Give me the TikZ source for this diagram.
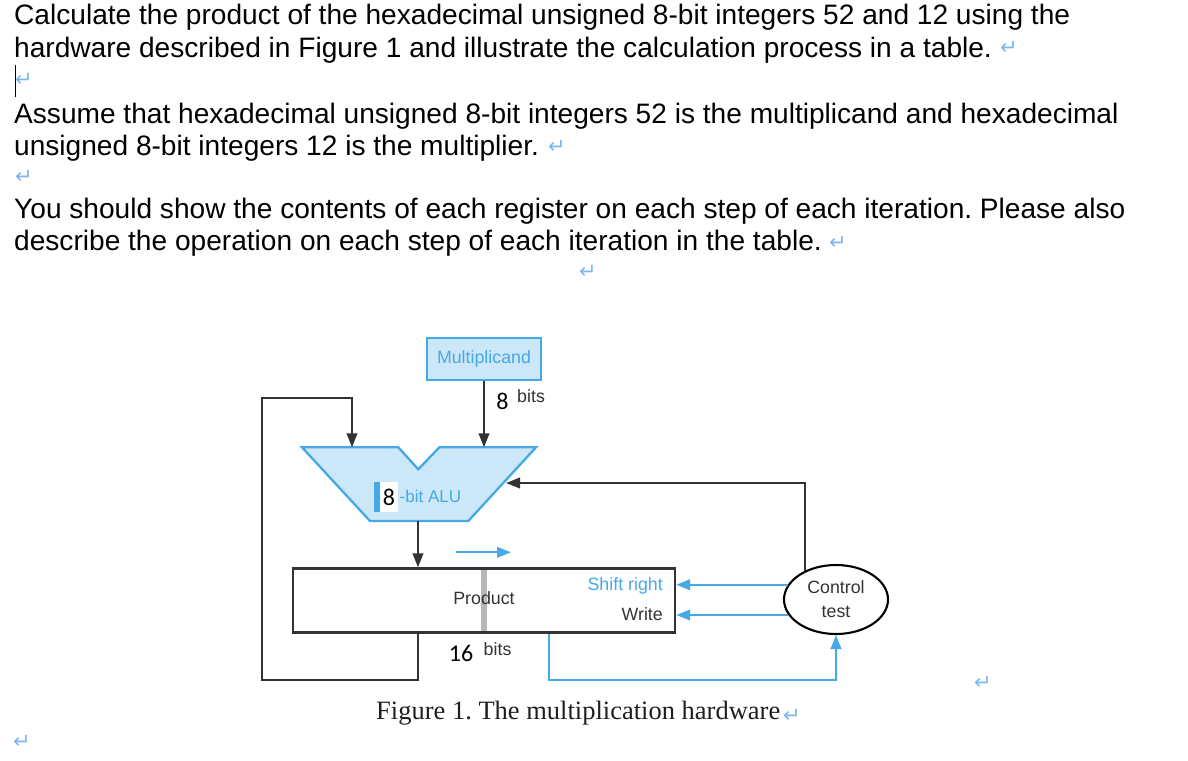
\documentclass[tikz,border=0pt]{standalone}
\usepackage{fontspec}
\setmainfont{Liberation Sans}
\newfontfamily\capfont{Liberation Serif}
\newfontfamily\symfont{DejaVu Sans}
\newfontfamily\digfont{Carlito}
\usetikzlibrary{arrows.meta,shapes.geometric}
\definecolor{hwblue}{HTML}{45A9E6}
\definecolor{hwfill}{HTML}{CCE7F7}
\definecolor{hwdark}{HTML}{333333}
\definecolor{pmark}{HTML}{7DB7EE}
\frenchspacing
\begin{document}
\begin{tikzpicture}[x=1pt,y=-1pt,
  body/.style={anchor=base west, inner sep=0pt, font=\fontsize{28.1}{32}\selectfont},
  pm/.style={text=pmark, inner sep=0pt, font=\symfont\fontsize{21}{21}\selectfont},
  wire/.style={draw=hwdark, line width=2.3pt},
  arr/.style={wire, -{Triangle[length=14pt,width=10.5pt]}},
  bwire/.style={draw=hwblue, line width=2.3pt},
  barr/.style={bwire, -{Triangle[length=14pt,width=10.5pt]}},
  lbl/.style={inner sep=0pt, font=\fontsize{17.8}{24}\selectfont},
  dig/.style={inner sep=0pt, font=\digfont\fontsize{24}{24}\selectfont}]
\useasboundingbox (0,0) rectangle (1188,760);
\fill[white] (0,0) rectangle (1188,760);

% ---- body text ----
\node[body] (t1) at (14,25) {Calculate the product of the hexadecimal unsigned 8-bit integers 52 and 12 using the};
\node[body] (t2) at (14,57.3) {hardware described in Figure 1 and illustrate the calculation process in a table.};
\node[body] (t3) at (14,123.3) {Assume that hexadecimal unsigned 8-bit integers 52 is the multiplicand and hexadecimal};
\node[body] (t4) at (14,155) {unsigned 8-bit integers 12 is the multiplier.};
\node[body] (t5) at (14,218.3) {You should show the contents of each register on each step of each iteration. Please also};
\node[body] (t6) at (14,250) {describe the operation on each step of each iteration in the table.};
\draw[black, line width=1.4pt] (15.5,65) -- (15.5,96.7);

% ---- paragraph marks ----
\node[pm] (p1) at (1009,48) {↵};
\node[pm] (p2) at (24,80) {↵};
\node[pm] (p3) at (557,147) {↵};
\node[pm] (p4) at (24,177) {↵};
\node[pm] (p5) at (838,243) {↵};
\node[pm] (p6) at (588,272) {↵};
\node[pm] (p7) at (983,683) {↵};
\node[pm] (p8) at (792,716) {↵};
\node[pm] (p9) at (22,742) {↵};

% ---- multiplicand ----
\node[lbl, draw=hwblue, fill=hwfill, line width=2.3pt, minimum width=114pt,
      minimum height=42pt, text=hwblue] (mc) at (484,359) {Multiplicand};

% ---- ALU ----
\filldraw[draw=hwblue, fill=hwfill, line width=2.3pt, line join=miter]
  (302,447.3) -- (398.3,447.3) -- (418.3,469.3) -- (439.3,447.3) -- (536,447.3)
  -- (468.3,521) -- (370,521) -- cycle;
\coordinate (aluL) at (352,447.3);
\coordinate (aluR) at (484,447.3);
\coordinate (aluB) at (418,521);
\coordinate (aluE) at (506,483);
\fill[hwblue] (374.3,481.7) rectangle (380,511.7);
\fill[white] (380,481.7) rectangle (398.3,511.7);
\node[dig] (alu8) at (389,497) {8};
\node[lbl, text=hwblue, anchor=west, font=\fontsize{17}{20}\selectfont] (alutxt) at (399.5,496) {-bit ALU};

% ---- product register ----
\node[draw=hwdark, line width=2.3pt, minimum width=382pt, minimum height=64pt, inner sep=0pt] (prod) at (484,600.5) {};
\fill[black!28] (480.5,569.6) rectangle (486.5,631.4);
\node[lbl, text=hwdark] (ptxt) at (484,598) {Product};
\node[lbl, text=hwblue, anchor=east] (shr) at (663,586) {Shift right};
\node[lbl, text=hwdark, anchor=east] (wr) at (663,614) {Write};

% ---- control ----
\node[ellipse, draw=black, line width=2.1pt, minimum width=104pt, minimum height=69pt,
      inner sep=0pt, align=center, lbl, text=hwdark] (ctl) at (836,599.5) {Control\\test};

% ---- labels ----
\node[dig, text=black] (m8) at (502.5,401) {8};
\node[lbl, anchor=base west, text=hwdark] (mbits) at (517,402.7) {bits};
\node[dig, text=black] (p16) at (461,653) {16};
\node[lbl, anchor=base west, text=hwdark] (pbits) at (483.5,655) {bits};

% ---- connectors ----
\coordinate (loopTL) at (262,398);
\coordinate (bx) at (549,0);
\coordinate (sa) at (456,552.3);
\coordinate (sb) at (511,552.3);
\draw[arr] (mc.south) -- (aluR);
\draw[arr] (prod.south -| aluB) -- ++(0,46) -| (loopTL) -| (aluL);
\draw[arr] (aluB) -- (aluB |- prod.north);
\draw[arr] (ctl.137) |- (aluE);
\draw[barr] (ctl.163) -- (ctl.163 -| prod.east);
\draw[barr] (ctl.198) -- (ctl.198 -| prod.east);
\draw[barr] (prod.south -| bx) -- ++(0,46) -| (ctl.south);
\draw[barr] (sa) -- (sb);

% ---- caption ----
\node[anchor=base west, inner sep=0pt, font=\capfont\fontsize{26.5}{30}\selectfont, text=black!88] (cap) at (376,719.3) {Figure 1. The multiplication hardware};
\end{tikzpicture}
\end{document}
